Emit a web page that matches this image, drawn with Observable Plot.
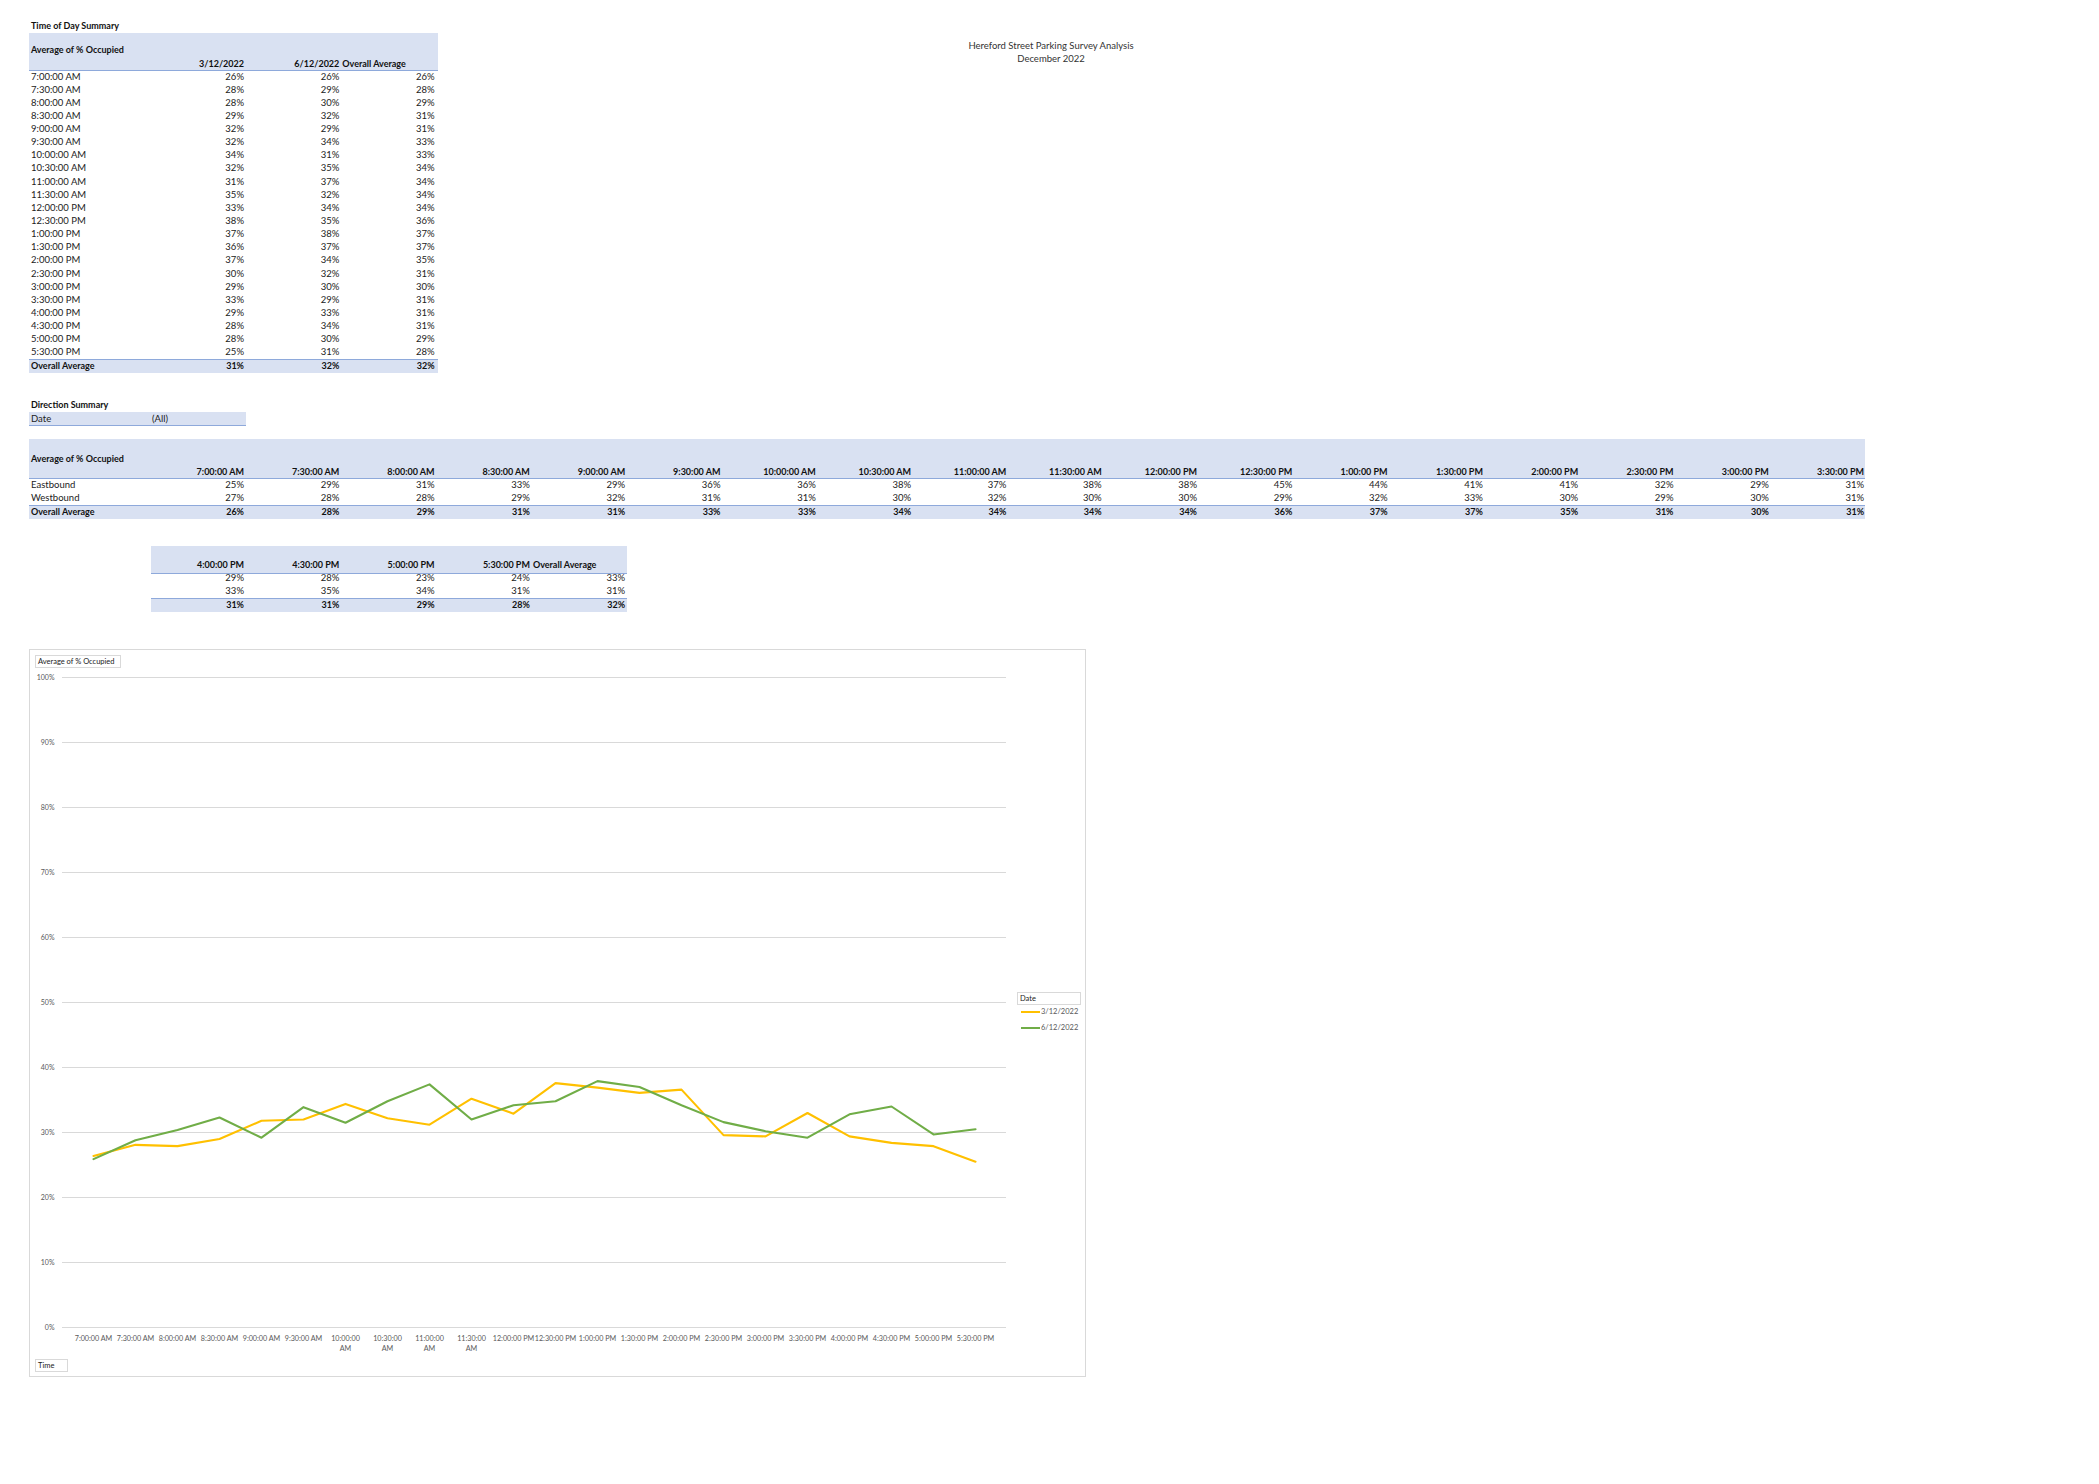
<!DOCTYPE html>
<html>
<head>
<meta charset="utf-8">
<script src="https://cdn.jsdelivr.net/npm/d3@7"></script>
<script src="https://cdn.jsdelivr.net/npm/@observablehq/plot@0.6"></script>
<style>
  html, body { margin: 0; padding: 0; background: #fff; }
  body { width: 2099px; height: 1484px; position: relative; overflow: hidden;
         font-family: Lato, "Open Sans", sans-serif; color: #222; }
  .t { position: absolute; white-space: nowrap; font-size: 9.5px; height: 12px; line-height: 12px; }
  .b { font-weight: bold; color: #111; }
  .r { text-align: right; }
  .band { position: absolute; background: #D9E1F2; }
  .chartbox { position: absolute; left: 29px; top: 649px; width: 1057px; height: 728px;
              border: 1px solid #d9d9d9; box-sizing: border-box; background: #fff; }
  .btn { position: absolute; border: 1px solid #d9d9d9; font-size: 7.5px; color: #222;
         line-height: 11px; height: 13px; box-sizing: border-box; padding-left: 2px; background: #fff; }
  .leg { position: absolute; font-size: 7.5px; color: #595959; line-height: 10px; white-space: nowrap; }
</style>
</head>
<body>
<script>
// ---------------- data ----------------
const times = ["7:00:00 AM","7:30:00 AM","8:00:00 AM","8:30:00 AM","9:00:00 AM","9:30:00 AM",
  "10:00:00 AM","10:30:00 AM","11:00:00 AM","11:30:00 AM","12:00:00 PM","12:30:00 PM",
  "1:00:00 PM","1:30:00 PM","2:00:00 PM","2:30:00 PM","3:00:00 PM","3:30:00 PM",
  "4:00:00 PM","4:30:00 PM","5:00:00 PM","5:30:00 PM"];
const chartTickLabels = ["7:00:00 AM","7:30:00 AM","8:00:00 AM","8:30:00 AM","9:00:00 AM","9:30:00 AM",
  "10:00:00\nAM","10:30:00\nAM","11:00:00\nAM","11:30:00\nAM","12:00:00 PM","12:30:00 PM",
  "1:00:00 PM","1:30:00 PM","2:00:00 PM","2:30:00 PM","3:00:00 PM","3:30:00 PM",
  "4:00:00 PM","4:30:00 PM","5:00:00 PM","5:30:00 PM"];
const dates = ["3/12/2022", "6/12/2022"];

// Time of Day Summary table (rounded %)
const tod312 = [26,28,28,29,32,32,34,32,31,35,33,38,37,36,37,30,29,33,29,28,28,25];
const tod612 = [26,29,30,32,29,34,31,35,37,32,34,35,38,37,34,32,30,29,33,34,30,31];
const todAll = [26,28,29,31,31,33,33,34,34,34,34,36,37,37,35,31,30,31,31,31,29,28];
const todTotals = [31, 32, 32];

// Direction Summary table (rounded %)
const directions = ["Eastbound", "Westbound"];
const dirEast = [25,29,31,33,29,36,36,38,37,38,38,45,44,41,41,32,29,31,29,28,23,24];
const dirWest = [27,28,28,29,32,31,31,30,32,30,30,29,32,33,30,29,30,31,33,35,34,31];
const dirAll  = [26,28,29,31,31,33,33,34,34,34,34,36,37,37,35,31,30,31,31,31,29,28];
const dirTotals = [33, 31, 32];

// Chart series (average % occupied)
const occ312 = [26.4,28.1,27.9,29.0,31.8,32.0,34.4,32.2,31.2,35.2,32.9,37.6,36.9,36.1,36.6,29.6,29.4,33.0,29.4,28.4,27.9,25.5];
const occ612 = [25.9,28.8,30.4,32.3,29.2,33.9,31.5,34.8,37.4,32.0,34.2,34.8,37.9,37.0,34.2,31.6,30.2,29.2,32.8,34.0,29.7,30.5];
const seriesColors = ["#FFC000", "#70AD47"];
const yTicks = [0, 0.1, 0.2, 0.3, 0.4, 0.5, 0.6, 0.7, 0.8, 0.9, 1.0];

// ---------------- helpers ----------------
const body = document.body;
const pct = v => v + "%";
function txt(s, x, cy, opts = {}) {
  const d = document.createElement("div");
  d.className = "t" + (opts.bold ? " b" : "") + (opts.right ? " r" : "");
  d.textContent = s;
  d.style.top = (cy - 6) + "px";
  if (opts.right) { d.style.left = (x - 200) + "px"; d.style.width = "200px"; }
  else d.style.left = x + "px";
  if (opts.center) { d.style.left = (x - 200) + "px"; d.style.width = "400px"; d.style.textAlign = "center"; }
  if (opts.size) d.style.fontSize = opts.size + "px";
  if (opts.color) d.style.color = opts.color;
  body.appendChild(d);
  return d;
}
function band(x, y, w, h, top, bottom) {
  const d = document.createElement("div");
  d.className = "band";
  Object.assign(d.style, { left: x + "px", top: y + "px", width: w + "px", height: h + "px" });
  if (top) d.style.borderTop = top;
  if (bottom) d.style.borderBottom = bottom;
  d.style.boxSizing = "border-box";
  body.appendChild(d);
}
const colR = i => 245 + 95.3 * i;
const blueLine = "1.5px solid #8EA9DB";
const rowH = 13.14;

// ---------------- title ----------------
txt("Hereford Street Parking Survey Analysis", 1051, 45.5, { center: true, color: "#333" });
txt("December 2022", 1051, 59, { center: true, color: "#333" });

// ---------------- Time of Day Summary ----------------
txt("Time of Day Summary", 31, 26, { bold: true, size: 9 });
band(29, 33, 409, 38, null, blueLine);
txt("Average of % Occupied", 31, 50, { bold: true, size: 9 });
txt(dates[0], colR(0) - 1, 63.5, { bold: true, right: true, size: 9 });
txt(dates[1], colR(1) - 1, 63.5, { bold: true, right: true, size: 9 });
txt("Overall Average", colR(1) + 2, 63.5, { bold: true, size: 9 });
times.forEach((t, i) => {
  const cy = 76.5 + rowH * i;
  txt(t, 31, cy);
  txt(pct(tod312[i]), colR(0) - 1, cy, { right: true });
  txt(pct(tod612[i]), colR(1) - 1, cy, { right: true });
  txt(pct(todAll[i]), colR(2) - 1, cy, { right: true });
});
band(29, 358.5, 409, 14.5, blueLine, null);
txt("Overall Average", 31, 366, { bold: true, size: 9 });
todTotals.forEach((v, j) => txt(pct(v), colR(j) - 1, 366, { bold: true, right: true, size: 9 }));

// ---------------- Direction Summary ----------------
txt("Direction Summary", 31, 404.5, { bold: true, size: 9 });
band(29, 412, 217, 13.5, null, "1px solid #8EA9DB");
txt("Date", 31, 418.5);
txt("(All)", 152, 418.5);

const nFirst = 18;
band(29, 439, 1836, 39.5, null, blueLine);
txt("Average of % Occupied", 31, 458.5, { bold: true, size: 9 });
for (let i = 0; i < nFirst; i++) txt(times[i], colR(i) - 1, 471.5, { bold: true, right: true, size: 9 });
txt(directions[0], 31, 485);
txt(directions[1], 31, 498);
band(29, 504.5, 1836, 14, blueLine, null);
txt("Overall Average", 31, 511.5, { bold: true, size: 9 });
for (let i = 0; i < nFirst; i++) {
  txt(pct(dirEast[i]), colR(i) - 1, 485, { right: true });
  txt(pct(dirWest[i]), colR(i) - 1, 498, { right: true });
  txt(pct(dirAll[i]), colR(i) - 1, 511.5, { bold: true, right: true, size: 9 });
}
// continuation block
band(151, 546, 476, 27.5, null, blueLine);
for (let i = nFirst; i < times.length; i++) txt(times[i], colR(i - nFirst) - 1, 564.5, { bold: true, right: true, size: 9 });
txt("Overall Average", colR(3) + 2, 564.5, { bold: true, size: 9 });
band(151, 597.5, 476, 14, blueLine, null);
for (let i = nFirst; i < times.length; i++) {
  const j = i - nFirst;
  txt(pct(dirEast[i]), colR(j) - 1, 578, { right: true });
  txt(pct(dirWest[i]), colR(j) - 1, 591, { right: true });
  txt(pct(dirAll[i]), colR(j) - 1, 604.5, { bold: true, right: true, size: 9 });
}
txt(pct(dirTotals[0]), colR(4) - 1, 578, { right: true });
txt(pct(dirTotals[1]), colR(4) - 1, 591, { right: true });
txt(pct(dirTotals[2]), colR(4) - 1, 604.5, { bold: true, right: true, size: 9 });

// ---------------- chart ----------------
const box = document.createElement("div");
box.className = "chartbox";
body.appendChild(box);

const rows = [];
dates.forEach((d, k) => {
  const vals = k === 0 ? occ312 : occ612;
  times.forEach((t, i) => rows.push({ time: t, date: d, v: vals[i] / 100 }));
});

const W = 1057, H = 727, mL = 33, mR = 80;
const step = (W - mL - mR) / times.length;
const chart = Plot.plot({
  width: W, height: H,
  marginLeft: mL, marginRight: mR, marginTop: 28, marginBottom: 49,
  style: { fontFamily: "Lato, sans-serif", fontSize: "7.5px", color: "#595959", background: "transparent", overflow: "visible" },
  x: { type: "point", domain: times, padding: 0, range: [mL + step / 2, W - mR - step / 2], label: null },
  y: { domain: [0, 1], label: null },
  color: { domain: dates, range: seriesColors },
  marks: [
    Plot.gridY(yTicks, { stroke: "#d9d9d9", strokeOpacity: 1, strokeWidth: 1 }),
    Plot.axisY(yTicks, { tickSize: 0, tickPadding: 8, tickFormat: d3.format(".0%"), fill: "#595959", fontSize: 7 }),
    Plot.axisX({ tickSize: 0, tickPadding: 6, fill: "#595959", fontSize: 7.2, lineHeight: 1.39,
                 tickFormat: d => chartTickLabels[times.indexOf(d)] }),
    Plot.lineY(rows, { x: "time", y: "v", stroke: "date", strokeWidth: 2.1, strokeLinejoin: "round" })
  ]
});
chart.style.position = "absolute";
chart.style.left = "29px";
chart.style.top = "649px";
body.appendChild(chart);

// field buttons
function btn(s, x, y, w) {
  const d = document.createElement("div");
  d.className = "btn"; d.textContent = s;
  Object.assign(d.style, { left: x + "px", top: y + "px", width: w + "px" });
  body.appendChild(d);
}
btn("Average of % Occupied", 35, 655, 86);
btn("Time", 35, 1359, 33);
btn("Date", 1017, 992, 64);

// legend
dates.forEach((d, k) => {
  const cy = 1012 + 16 * k;
  const sw = document.createElement("div");
  Object.assign(sw.style, { position: "absolute", left: "1021px", top: (cy - 1.1) + "px", width: "19px", height: "2.2px", background: seriesColors[k] });
  body.appendChild(sw);
  const l = document.createElement("div");
  l.className = "leg"; l.textContent = d;
  Object.assign(l.style, { left: "1041px", top: (cy - 5) + "px" });
  body.appendChild(l);
});
</script>
</body>
</html>
